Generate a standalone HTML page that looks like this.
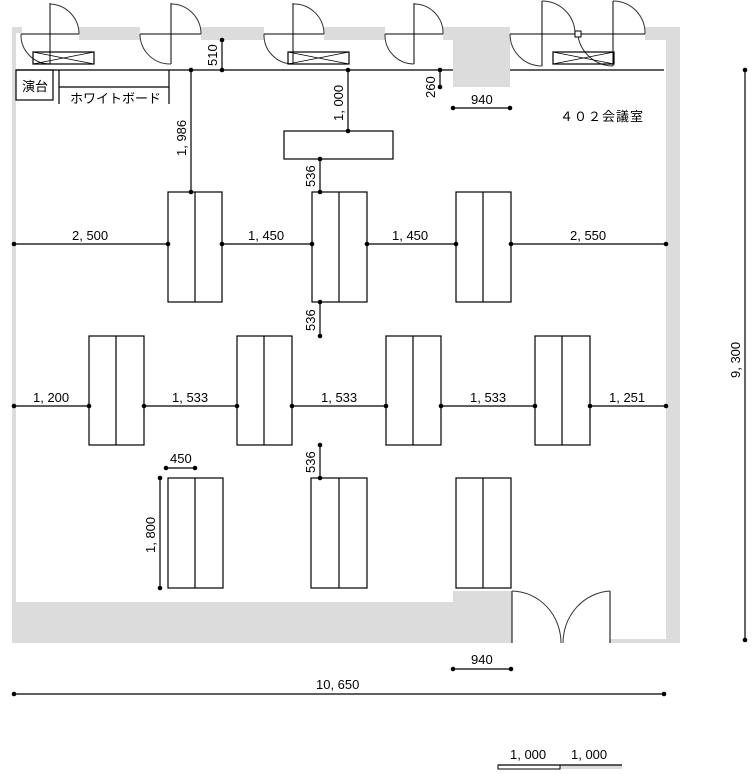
<!DOCTYPE html>
<html><head><meta charset="utf-8"><style>
html,body{margin:0;padding:0;background:#fff}
svg{display:block}
text{font-family:"Liberation Sans","Noto Sans CJK JP",sans-serif;font-size:13px;fill:#000}
</style></head><body>
<svg width="754" height="774" viewBox="0 0 754 774" xmlns="http://www.w3.org/2000/svg">
<g fill="#dcdcdc">
<rect x="12" y="27" width="4" height="615"/>
<rect x="12" y="27" width="10" height="6"/>
<rect x="79" y="27" width="61" height="13"/>
<rect x="201" y="27" width="63" height="13"/>
<rect x="324" y="27" width="61" height="13"/>
<rect x="443" y="27" width="67" height="13"/>
<rect x="453" y="27" width="57" height="60"/>
<rect x="645" y="27" width="35" height="13"/>
<rect x="666" y="27" width="14" height="616"/>
<rect x="12" y="602" width="500" height="41"/>
<rect x="453" y="591" width="59" height="52"/>
<rect x="610" y="639" width="70" height="4"/>
<rect x="560" y="765" width="62" height="4"/>
</g>
<g fill="none" stroke="#000" stroke-width="1.2">
<line x1="16" y1="70" x2="453" y2="70"/><line x1="510" y1="70" x2="664" y2="70"/>
<!-- doors -->
<g stroke-width="1">
<line x1="50" y1="3" x2="50" y2="64"/><line x1="21" y1="34" x2="79" y2="34"/>
<path d="M50 4 A30 30 0 0 1 79 34 M21 34 A29 29 0 0 0 50 64" stroke="#333"/>
<line x1="171" y1="3" x2="171" y2="64"/><line x1="140" y1="34" x2="201" y2="34"/>
<path d="M171 4 A30 30 0 0 1 201 34 M140 34 A30 30 0 0 0 171 64" stroke="#333"/>
<line x1="293" y1="3" x2="293" y2="64"/><line x1="264" y1="34" x2="324" y2="34"/>
<path d="M293 4 A30 30 0 0 1 324 34 M264 34 A29 29 0 0 0 293 64" stroke="#333"/>
<line x1="414" y1="3" x2="414" y2="64"/><line x1="385" y1="34" x2="443" y2="34"/>
<path d="M414 4 A29 29 0 0 1 443 34 M385 34 A29 29 0 0 0 414 64" stroke="#333"/>
<line x1="542" y1="1" x2="542" y2="66"/><line x1="510" y1="34" x2="645" y2="34"/>
<path d="M542 1 A33 33 0 0 1 575 34 M510 34 A32 32 0 0 0 542 66" stroke="#333"/>
<line x1="613" y1="1" x2="613" y2="66"/>
<path d="M613 1 A32 32 0 0 1 645 34 M578 36 A36 36 0 0 0 613 66" stroke="#333"/>
<rect x="575" y="31" width="6" height="6" fill="#fff"/>
<line x1="512" y1="591" x2="512" y2="643"/><line x1="610" y1="591" x2="610" y2="643"/>
<path d="M512 591 A50 52 0 0 1 561 643 M610 591 A50 52 0 0 0 563 643" stroke="#333"/>
</g>
<!-- vent boxes -->
<rect x="33" y="52" width="61" height="12"/><path d="M33 52 L94 64 M33 64 L94 52" stroke-width="0.7"/>
<rect x="288" y="52" width="61" height="12"/><path d="M288 52 L349 64 M288 64 L349 52" stroke-width="0.7"/>
<rect x="553" y="52" width="61" height="12"/><path d="M553 52 L614 64 M553 64 L614 52" stroke-width="0.7"/>
<!-- podium/whiteboard -->
<rect x="16" y="70" width="37" height="30"/>
<line x1="59" y1="70" x2="59" y2="104"/><line x1="169" y1="70" x2="169" y2="104"/><line x1="59" y1="87" x2="169" y2="87"/>
<rect x="284" y="131" width="109" height="28"/>
<!-- tables -->
<rect x="168" y="192" width="54" height="110"/><line x1="195" y1="192" x2="195" y2="302"/>
<rect x="312" y="192" width="55" height="110"/><line x1="339" y1="192" x2="339" y2="302"/>
<rect x="456" y="192" width="55" height="110"/><line x1="483" y1="192" x2="483" y2="302"/>
<rect x="89" y="336" width="55" height="109"/><line x1="116" y1="336" x2="116" y2="445"/>
<rect x="237" y="336" width="55" height="109"/><line x1="264" y1="336" x2="264" y2="445"/>
<rect x="386" y="336" width="55" height="109"/><line x1="413" y1="336" x2="413" y2="445"/>
<rect x="535" y="336" width="55" height="109"/><line x1="562" y1="336" x2="562" y2="445"/>
<rect x="168" y="478" width="55" height="110"/><line x1="195" y1="478" x2="195" y2="588"/>
<rect x="311" y="478" width="56" height="110"/><line x1="339" y1="478" x2="339" y2="588"/>
<rect x="456" y="478" width="55" height="110"/><line x1="483" y1="478" x2="483" y2="588"/>
<!-- dims -->
<line x1="222" y1="40" x2="222" y2="70"/>
<line x1="191" y1="70" x2="191" y2="192"/>
<line x1="348" y1="70" x2="348" y2="131"/>
<line x1="320" y1="159" x2="320" y2="192"/>
<line x1="440" y1="70" x2="440" y2="87"/>
<line x1="453" y1="108" x2="510" y2="108"/>
<line x1="14" y1="244" x2="168" y2="244"/><line x1="222" y1="244" x2="312" y2="244"/>
<line x1="367" y1="244" x2="456" y2="244"/><line x1="511" y1="244" x2="666" y2="244"/>
<line x1="320" y1="302" x2="320" y2="336"/>
<line x1="14" y1="406" x2="89" y2="406"/><line x1="144" y1="406" x2="237" y2="406"/>
<line x1="292" y1="406" x2="386" y2="406"/><line x1="441" y1="406" x2="535" y2="406"/>
<line x1="590" y1="406" x2="666" y2="406"/>
<line x1="320" y1="445" x2="320" y2="478"/>
<line x1="166" y1="468" x2="195" y2="468"/>
<line x1="160" y1="478" x2="160" y2="588"/>
<line x1="453" y1="669" x2="511" y2="669"/>
<line x1="14" y1="694" x2="664" y2="694"/>
<line x1="745" y1="70" x2="745" y2="640"/>
<line x1="498" y1="765" x2="622" y2="765"/>
<rect x="498" y="765" width="62" height="4" stroke-width="1"/>
</g>
<g fill="#000">
<circle cx="222" cy="40" r="2.3"/><circle cx="222" cy="70" r="2.3"/>
<circle cx="191" cy="70" r="2.3"/><circle cx="191" cy="192" r="2.3"/>
<circle cx="348" cy="70" r="2.3"/><circle cx="348" cy="131" r="2.3"/>
<circle cx="320" cy="159" r="2.3"/><circle cx="320" cy="192" r="2.3"/>
<circle cx="440" cy="70" r="2.3"/><circle cx="440" cy="87" r="2.3"/>
<circle cx="453" cy="108" r="2.3"/><circle cx="510" cy="108" r="2.3"/>
<circle cx="14" cy="244" r="2.3"/><circle cx="168" cy="244" r="2.3"/><circle cx="222" cy="244" r="2.3"/><circle cx="312" cy="244" r="2.3"/><circle cx="367" cy="244" r="2.3"/><circle cx="456" cy="244" r="2.3"/><circle cx="511" cy="244" r="2.3"/><circle cx="666" cy="244" r="2.3"/>
<circle cx="320" cy="302" r="2.3"/><circle cx="320" cy="336" r="2.3"/>
<circle cx="14" cy="406" r="2.3"/><circle cx="89" cy="406" r="2.3"/><circle cx="144" cy="406" r="2.3"/><circle cx="237" cy="406" r="2.3"/><circle cx="292" cy="406" r="2.3"/><circle cx="386" cy="406" r="2.3"/><circle cx="441" cy="406" r="2.3"/><circle cx="535" cy="406" r="2.3"/><circle cx="590" cy="406" r="2.3"/><circle cx="666" cy="406" r="2.3"/>
<circle cx="320" cy="445" r="2.3"/><circle cx="320" cy="478" r="2.3"/>
<circle cx="166" cy="468" r="2.3"/><circle cx="195" cy="468" r="2.3"/>
<circle cx="160" cy="478" r="2.3"/><circle cx="160" cy="588" r="2.3"/>
<circle cx="453" cy="669" r="2.3"/><circle cx="511" cy="669" r="2.3"/>
<circle cx="14" cy="694" r="2.3"/><circle cx="664" cy="694" r="2.3"/>
<circle cx="745" cy="70" r="2.3"/><circle cx="745" cy="640" r="2.3"/>
</g>
<text x="22" y="91" font-size="12">演台</text>
<text x="70" y="103" font-size="12">ホワイトボード</text>
<text x="560" y="121" font-size="12" letter-spacing="1">４０２会議室</text>
<text x="471" y="104">940</text>
<text x="471" y="664">940</text>
<text x="316" y="689">10, 650</text>
<text x="72" y="240">2, 500</text>
<text x="248" y="240">1, 450</text>
<text x="392" y="240">1, 450</text>
<text x="570" y="240">2, 550</text>
<text x="33" y="402">1, 200</text>
<text x="172" y="402">1, 533</text>
<text x="321" y="402">1, 533</text>
<text x="470" y="402">1, 533</text>
<text x="609" y="402">1, 251</text>
<text x="170" y="463">450</text>
<text x="510" y="759">1, 000</text>
<text x="571" y="759">1, 000</text>
<text transform="translate(217,66) rotate(-90)">510</text>
<text transform="translate(186,156) rotate(-90)">1, 986</text>
<text transform="translate(343,121) rotate(-90)">1, 000</text>
<text transform="translate(315,187) rotate(-90)">536</text>
<text transform="translate(435,98) rotate(-90)">260</text>
<text transform="translate(315,331) rotate(-90)">536</text>
<text transform="translate(315,473) rotate(-90)">536</text>
<text transform="translate(155,553) rotate(-90)">1, 800</text>
<text transform="translate(740,378) rotate(-90)">9, 300</text>
</svg>
</body></html>
